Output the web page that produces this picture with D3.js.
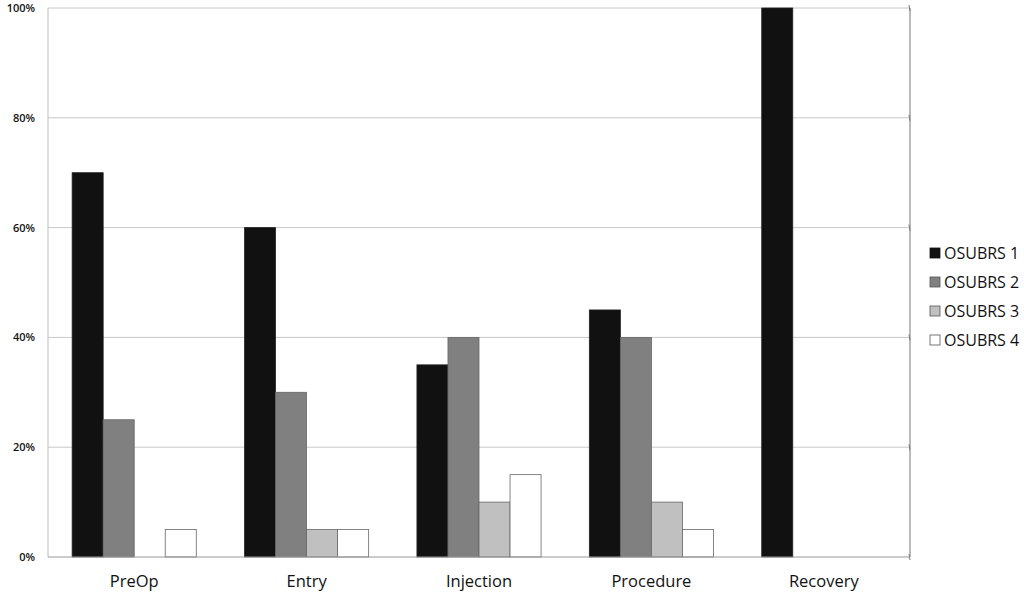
<!DOCTYPE html>
<html>
<head>
<meta charset="utf-8">
<script src="https://cdn.jsdelivr.net/npm/d3@7"></script>
<style>
  body { margin: 0; background: #fff; }
  svg text { font-family: "Open Sans", Lato, sans-serif; fill: #111; }
</style>
</head>
<body>
<div class="container"></div>
<script>
const w = 1024
const h = 594
const margin = {top: 8, right: 114, bottom: 37, left: 48}

const categories = ["PreOp", "Entry", "Injection", "Procedure", "Recovery"]
const seriesNames = ["OSUBRS 1", "OSUBRS 2", "OSUBRS 3", "OSUBRS 4"]
const osubrs1 = [70, 60, 35, 45, 100]
const osubrs2 = [25, 30, 40, 40, 0]
const osubrs3 = [0, 5, 10, 10, 0]
const osubrs4 = [5, 5, 15, 5, 0]
const yTicks = [0, 20, 40, 60, 80, 100]
const colors = ["#111111", "#808080", "#c0c0c0", "#ffffff"]

const series = [osubrs1, osubrs2, osubrs3, osubrs4]
const data = categories.map((c, i) => ({
  cat: c,
  values: series.map((s, j) => ({key: seriesNames[j], value: s[i], idx: j}))
}))

const svg = d3.select(".container")
              .append("svg")
              .attr("width", w)
              .attr("height", h)

const x0 = d3.scaleBand()
             .domain(categories)
             .range([margin.left, w - margin.right])
             .paddingInner(0.28)
             .paddingOuter(0.14)

const x1 = d3.scaleBand()
             .domain(seriesNames)
             .range([0, x0.bandwidth()])

const y = d3.scaleLinear()
            .domain([0, 100])
            .range([h - margin.bottom, margin.top])

// gridlines
svg.append("g")
   .selectAll("line")
   .data(yTicks.filter(t => t > 0))
   .enter()
   .append("line")
     .attr("x1", margin.left)
     .attr("x2", w - margin.right)
     .attr("y1", d => y(d))
     .attr("y2", d => y(d))
     .attr("stroke", "#c8c8c8")
     .attr("stroke-width", 1)

// left axis line
svg.append("line")
   .attr("x1", margin.left).attr("x2", margin.left)
   .attr("y1", margin.top).attr("y2", h - margin.bottom)
   .attr("stroke", "#bbb")

// right border with small ticks
svg.append("line")
   .attr("x1", w - margin.right).attr("x2", w - margin.right)
   .attr("y1", margin.top).attr("y2", h - margin.bottom)
   .attr("stroke", "#777")

svg.append("g")
   .selectAll("line")
   .data(yTicks)
   .enter()
   .append("line")
     .attr("x1", w - margin.right - 1)
     .attr("x2", w - margin.right)
     .attr("y1", d => y(d) - 3)
     .attr("y2", d => y(d) + 3)
     .attr("stroke", "#777")

// bars
const groups = svg.append("g")
   .selectAll("g")
   .data(data)
   .enter()
   .append("g")
     .attr("transform", d => `translate(${x0(d.cat)}, 0)`)

groups.selectAll("rect")
   .data(d => d.values.filter(v => v.value > 0))
   .enter()
   .append("rect")
     .attr("x", d => x1(d.key))
     .attr("y", d => y(d.value))
     .attr("width", x1.bandwidth())
     .attr("height", d => y(0) - y(d.value))
     .attr("fill", d => colors[d.idx])
     .attr("stroke", d => d.idx === 0 ? "#222" : "#666")
     .attr("stroke-width", 0.8)

// bottom axis line
svg.append("line")
   .attr("x1", margin.left).attr("x2", w - margin.right)
   .attr("y1", y(0)).attr("y2", y(0))
   .attr("stroke", "#999")

// y axis labels
const yAxis = d3.axisLeft(y)
                .tickValues(yTicks)
                .tickFormat(d => d + "%")
                .tickSize(0)
                .tickPadding(13)

const yg = svg.append("g")
   .attr("transform", `translate(${margin.left}, 0)`)
   .call(yAxis)
yg.select(".domain").remove()
yg.selectAll("text")
  .style("font-size", "11px")
  .style("font-weight", "600")
  .attr("fill", "#111")

// x axis labels
const xAxis = d3.axisBottom(x0).tickSize(0).tickPadding(18)
const xg = svg.append("g")
   .attr("transform", `translate(0, ${y(0)})`)
   .call(xAxis)
xg.select(".domain").remove()
xg.selectAll("text")
  .style("font-size", "16.5px")
  .attr("fill", "#111")

// legend
const legend = svg.append("g")
   .attr("transform", "translate(930, 248)")

const item = legend.selectAll("g")
   .data(seriesNames)
   .enter()
   .append("g")
     .attr("transform", (d, i) => `translate(0, ${i * 29})`)

item.append("rect")
    .attr("width", 10)
    .attr("height", 10)
    .attr("fill", (d, i) => colors[i])
    .attr("stroke", (d, i) => i === 0 ? "#111" : "#555")
    .attr("stroke-width", 0.8)

item.append("text")
    .attr("x", 14)
    .attr("y", 5)
    .attr("dy", "0.35em")
    .style("font-size", "16px")
    .text(d => d)
</script>
</body>
</html>
